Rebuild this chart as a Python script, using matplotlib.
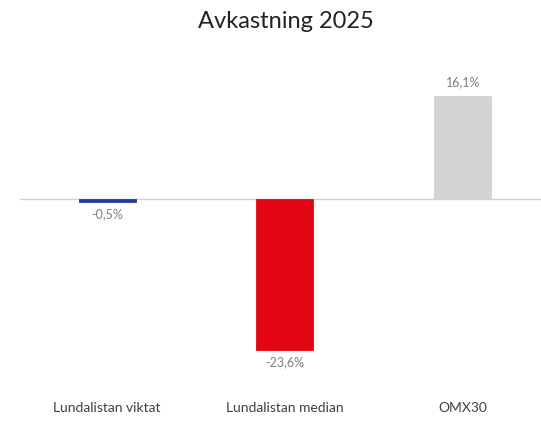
import matplotlib.pyplot as plt

categories = ["Lundalistan viktat", "Lundalistan median", "OMX30"]
values = [-0.5, -23.6, 16.1]
labels = ["-0,5%", "-23,6%", "16,1%"]
colors = ["#1f3d96", "#e20613", "#d3d3d3"]

plt.rcParams['font.family'] = ['Lato', 'DejaVu Sans']

fig = plt.figure(figsize=(5.41, 4.21), dpi=100)
# axes placed in pixel terms: x 20..541, y 50..380 (from top)
ax = fig.add_axes([20 / 541, 1 - 380 / 421, 521 / 541, 330 / 421])
x = list(range(len(categories)))
ax.bar(x, values, width=0.32, color=colors, edgecolor=colors, linewidth=0.6, zorder=3)
ax.axhline(0, color="#d0d0d0", linewidth=1, zorder=2)
ax.set_xlim(-0.49, 2.44)
ax.set_ylim(-28.3, 23.3)
ax.axis("off")

for xi, v, lab in zip(x, values, labels):
    if v >= 0:
        ax.text(xi, v + 1.2, lab, ha="center", va="bottom", fontsize=9, color="#808080")
    else:
        ax.text(xi, v - 1.0, lab, ha="center", va="top", fontsize=9, color="#808080")

for xi, c in zip(x, categories):
    ax.text(xi, -28.3 - 4.4, c, ha="center", va="center", fontsize=10, color="#404040")

fig.text(286 / 541, 1 - 22 / 421, "Avkastning 2025", ha="center", va="center",
         fontsize=17, color="#222222")

fig.savefig("out.png", dpi=100)
